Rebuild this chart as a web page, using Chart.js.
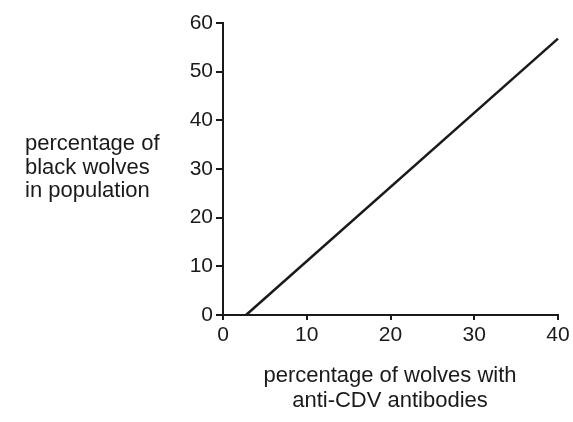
<!DOCTYPE html>
<html>
<head>
<meta charset="utf-8">
<script src="https://cdn.jsdelivr.net/npm/chart.js@4/dist/chart.umd.min.js"></script>
<style>
  html, body { margin: 0; padding: 0; background: #fff; }
  #wrap { position: relative; width: 573px; height: 422px; font-family: "Liberation Sans", Arial, sans-serif; color: #1a1a1a; }
  #chart { position: absolute; left: 0; top: 0; }
  .axis-title { position: absolute; font-size: 22px; white-space: nowrap; }
  #y-title { left: 25px; top: 131px; line-height: 23.5px; text-align: left; }
  #x-title { left: 240px; width: 300px; top: 362px; line-height: 25px; text-align: center; }
</style>
</head>
<body>
<div id="wrap">
  <canvas id="chart" width="573" height="422"></canvas>
  <div class="axis-title" id="y-title"></div>
  <div class="axis-title" id="x-title"></div>
</div>
<script>
  /* data */
  var xValues = [2.75, 40];
  var yValues = [0, 56.8];
  var xTicks = [0, 10, 20, 30, 40];
  var yTicks = [0, 10, 20, 30, 40, 50, 60];
  var xTitleLines = ['percentage of wolves with', 'anti-CDV antibodies'];
  var yTitleLines = ['percentage of', 'black wolves', 'in population'];

  document.getElementById('x-title').innerHTML = xTitleLines.join('<br>');
  document.getElementById('y-title').innerHTML = yTitleLines.join('<br>');

  var points = xValues.map(function (x, i) { return { x: x, y: yValues[i] }; });
  var INK = '#1a1a1a';
  var FONT = { family: '"Liberation Sans", Arial, sans-serif', size: 21 };

  function axis(ticks, tickLen, pad, fitFn) {
    return {
      type: 'linear',
      min: ticks[0],
      max: ticks[ticks.length - 1],
      afterBuildTicks: function (scale) {
        scale.ticks = ticks.map(function (v) { return { value: v }; });
      },
      afterFit: fitFn,
      grid: { drawOnChartArea: false, drawTicks: true, tickLength: tickLen, color: INK, lineWidth: 2 },
      border: { display: true, color: INK, width: 2 },
      ticks: { color: INK, font: FONT, padding: pad, maxRotation: 0, autoSkip: false }
    };
  }

  new Chart(document.getElementById('chart'), {
    type: 'scatter',
    data: {
      datasets: [{
        data: points,
        showLine: true,
        borderColor: INK,
        borderWidth: 2.5,
        pointRadius: 0,
        clip: false
      }]
    },
    options: {
      responsive: false,
      animation: false,
      layout: { padding: { left: 163, right: 15, top: 23, bottom: 67 } },
      scales: {
        x: axis(xTicks, 5, 3, function (s) { s.height = 40; }),
        y: axis(yTicks, 7, 3, function (s) { s.width = 60; })
      },
      plugins: { legend: { display: false }, tooltip: { enabled: false } }
    }
  });
</script>
</body>
</html>
